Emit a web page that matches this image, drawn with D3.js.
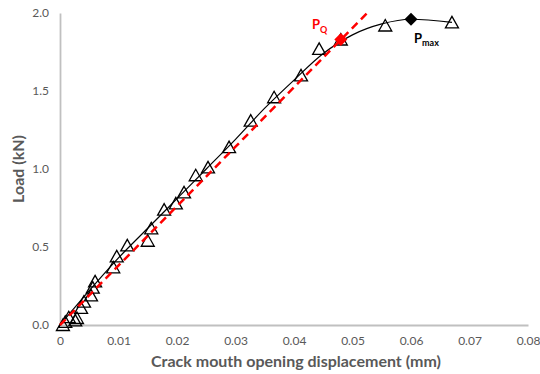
<!DOCTYPE html>
<html>
<head>
<meta charset="utf-8">
<script src="https://cdn.jsdelivr.net/npm/d3@7"></script>
<style>
  html, body { margin: 0; padding: 0; background: #fff; }
  svg text { font-family: Lato, "Open Sans", "Liberation Sans", sans-serif; }
</style>
</head>
<body>
<svg class="cmod-chart" width="540" height="374"></svg>
<script>
// measured points (open triangles)
const cmod = [0.0005, 0.0009, 0.0015, 0.0026, 0.0029, 0.0036, 0.0041, 0.0053, 0.0056, 0.0060,
  0.0091, 0.0097, 0.0115, 0.0150, 0.0156, 0.0178, 0.0198, 0.0212, 0.0232, 0.0253,
  0.0289, 0.0326, 0.0366, 0.0412, 0.0443, 0.0480, 0.0556, 0.0670];
const load = [0.00, 0.02, 0.05, 0.03, 0.045, 0.11, 0.15, 0.19, 0.24, 0.28,
  0.37, 0.44, 0.51, 0.54, 0.62, 0.74, 0.78, 0.85, 0.96, 1.01,
  1.14, 1.31, 1.46, 1.60, 1.77, 1.83, 1.92, 1.94];

// smooth fitted curve
const fitX = [0, 0.005, 0.01, 0.015, 0.02, 0.025, 0.03, 0.035, 0.04, 0.045, 0.05, 0.055, 0.06, 0.067];
const fitY = [0, 0.22, 0.43, 0.62, 0.81, 1.0, 1.19, 1.39, 1.57, 1.74, 1.86, 1.93, 1.96, 1.94];

// 5% secant / linear fit line
const secantX = [0, 0.0525];
const secantY = [0, 2.0];

const pQ = [0.048, 1.83];
const pMax = [0.06, 1.96];

const xTicks = [0, 0.01, 0.02, 0.03, 0.04, 0.05, 0.06, 0.07, 0.08];
const yTicks = [0, 0.5, 1.0, 1.5, 2.0];

const svg = d3.select(".cmod-chart"),
  plotLeft = 60,
  plotRight = 528,
  plotTop = 13,
  plotBottom = 325,
  axisGrey = "#c0c0c0",
  textGrey = "#595959";

const x = d3.scaleLinear().domain([0, 0.08]).range([plotLeft, plotRight]);
const y = d3.scaleLinear().domain([0, 2.0]).range([plotBottom, plotTop]);

// axes
const xAxis = svg.append("g")
  .attr("transform", `translate(0,${plotBottom})`)
  .call(d3.axisBottom(x).tickValues(xTicks).tickSize(0).tickPadding(11)
    .tickFormat((d) => (d === 0 ? "0" : d3.format(".2f")(d))));
const yAxis = svg.append("g")
  .attr("transform", `translate(${plotLeft},0)`)
  .call(d3.axisLeft(y).tickValues(yTicks).tickSize(0).tickPadding(11)
    .tickFormat(d3.format(".1f")));

[xAxis, yAxis].forEach((g) => {
  g.select(".domain").attr("stroke", axisGrey).attr("stroke-width", 1.8);
  g.selectAll("text").attr("fill", textGrey).style("font-size", "12px");
});

// titles
svg.append("text")
  .attr("x", (plotLeft + plotRight) / 2 + 2)
  .attr("y", 367)
  .attr("text-anchor", "middle")
  .attr("fill", textGrey)
  .style("font-size", "16px")
  .style("font-weight", "bold")
  .text("Crack mouth opening displacement (mm)");

svg.append("text")
  .attr("transform", `translate(24,${(plotTop + plotBottom) / 2}) rotate(-90)`)
  .attr("text-anchor", "middle")
  .attr("fill", textGrey)
  .style("font-size", "16px")
  .style("font-weight", "bold")
  .text("Load (kN)");

// triangles
const points = cmod.map((c, i) => ({ c, p: load[i] }));
svg.append("g")
  .selectAll("path")
  .data(points)
  .enter()
  .append("path")
  .attr("transform", (d) => `translate(${x(d.c)},${y(d.p)})`)
  .attr("d", "M0,-6 L6.5,5.5 L-6.5,5.5 Z")
  .attr("fill", "none")
  .attr("stroke", "#000")
  .attr("stroke-width", 1.3);

// fitted curve
const fit = fitX.map((c, i) => [c, fitY[i]]);
svg.append("path")
  .datum(fit)
  .attr("fill", "none")
  .attr("stroke", "#000")
  .attr("stroke-width", 1.2)
  .attr("d", d3.line().x((d) => x(d[0])).y((d) => y(d[1])).curve(d3.curveMonotoneX));

// secant line
const secant = secantX.map((c, i) => [c, secantY[i]]);
svg.append("path")
  .datum(secant)
  .attr("fill", "none")
  .attr("stroke", "#ff0000")
  .attr("stroke-width", 2.5)
  .attr("stroke-dasharray", "8,5")
  .attr("d", d3.line().x((d) => x(d[0])).y((d) => y(d[1])));

// diamonds
const diamond = "M0,-6.5 L6.5,0 L0,6.5 L-6.5,0 Z";
svg.append("path")
  .attr("transform", `translate(${x(pQ[0])},${y(pQ[1])})`)
  .attr("d", diamond)
  .attr("fill", "#ff0000");
svg.append("path")
  .attr("transform", `translate(${x(pMax[0])},${y(pMax[1])})`)
  .attr("d", diamond)
  .attr("fill", "#000");

// labels
const pqLabel = svg.append("text")
  .attr("x", 312)
  .attr("y", 29)
  .attr("fill", "#ff0000")
  .style("font-size", "13px")
  .style("font-weight", "bold")
  .text("P");
pqLabel.append("tspan").attr("dy", 4).style("font-size", "9px").text("Q");

const pmaxLabel = svg.append("text")
  .attr("x", 414)
  .attr("y", 43)
  .attr("fill", "#000")
  .style("font-size", "13px")
  .style("font-weight", "bold")
  .text("P");
pmaxLabel.append("tspan").attr("dy", 3).style("font-size", "9px").text("max");
</script>
</body>
</html>
